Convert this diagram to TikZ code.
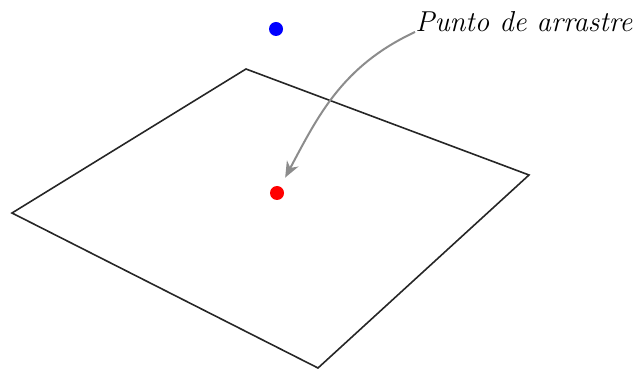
\documentclass[tikz,border=0pt]{standalone}
\usetikzlibrary{arrows.meta}

\begin{document}
\begin{tikzpicture}[x=0.5pt, y=-0.5pt,
    dot/.style={circle, fill, inner sep=0pt, minimum size=7pt},
    sheet/.style={draw=black!85, line width=0.8pt},
    pointer/.style={draw=black!45, line width=1pt, shorten >=5pt, -{Stealth[length=8pt, width=6.5pt, inset=2.5pt]}}]
    \useasboundingbox (0,0) rectangle (635,373);
    \coordinate (top) at (246,69);
    \coordinate (right) at (529,175);
    \coordinate (bottom) at (318,368);
    \coordinate (left) at (12,213);
    \draw[sheet] (top) -- (right) -- (bottom) -- (left) -- cycle;

    \node[dot, blue] (drag) at (276,29) {};
    \node[dot, red] (target) at (277,193) {};
    \node[anchor=base west, inner sep=0pt, font=\Large\itshape] (lbl) at (415,32) {Punto de arrastre};

    \draw[pointer] (lbl.base west) to[out=205, in=62] (target);
\end{tikzpicture}
\end{document}
